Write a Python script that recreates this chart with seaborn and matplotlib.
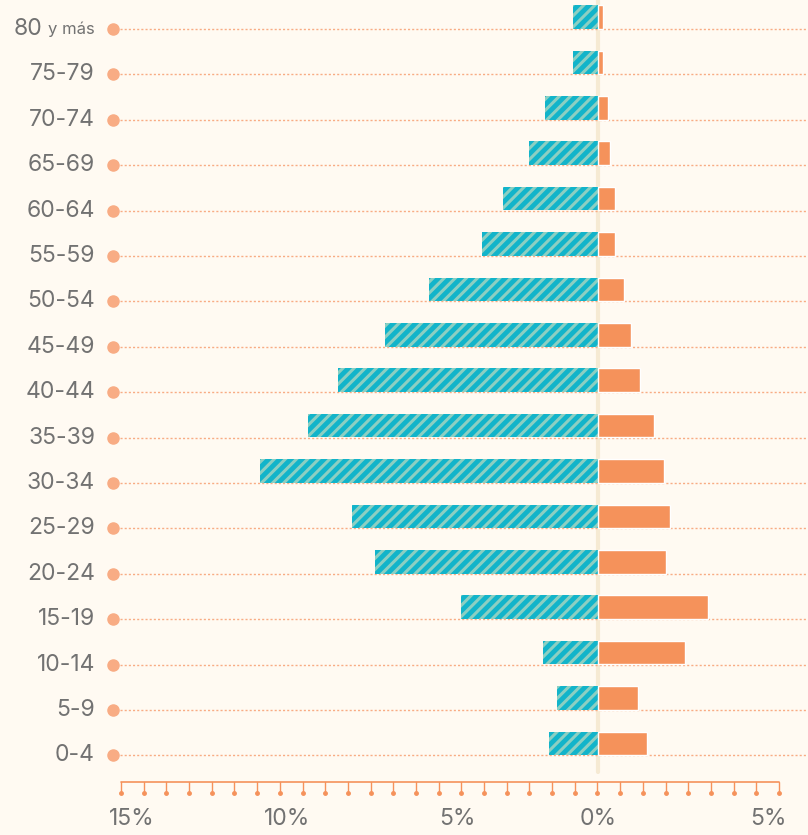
import numpy as np
import matplotlib
matplotlib.use("Agg")
import matplotlib.pyplot as plt
import seaborn as sns

# age groups, top to bottom
groups = ["80 y más", "75-79", "70-74", "65-69", "60-64", "55-59", "50-54", "45-49",
          "40-44", "35-39", "30-34", "25-29", "20-24", "15-19", "10-14", "5-9", "0-4"]
# share of population (%)
hombres = [0.79, 0.79, 1.67, 2.17, 2.99, 3.65, 5.31, 6.70, 8.18, 9.12, 10.63,
           7.74, 7.01, 4.31, 1.73, 1.29, 1.54]
mujeres = [0.16, 0.16, 0.31, 0.38, 0.53, 0.53, 0.82, 1.04, 1.32, 1.76, 2.08,
           2.26, 2.14, 3.46, 2.74, 1.26, 1.54]
tick_text = ["15%", "10%", "5%", "0%", "5%"]

bg = "#FFFAF2"
teal = "#12B4CA"
stripe = "#8CCFC2"
orange = "#F5925B"
dot_col = "#F8AC84"
grey = "#727272"

sns.set_style("white")
plt.rcParams["font.family"] = ["Inter", "DejaVu Sans"]
plt.rcParams["hatch.linewidth"] = 2.2

fig = plt.figure(figsize=(8.08, 8.35), dpi=100)
fig.patch.set_facecolor(bg)
ax = fig.add_axes([0, 0, 1, 1])
ax.set_facecolor(bg)

px = 31.8          # pixels per percent
zero_px = 598
row = 45.4         # pixels per age group
x0 = -zero_px / px
x1 = (808 - zero_px) / px

def to_x(p):
    return (p - zero_px) / px

def to_y(p):
    return (p - 17) / row

# zero line
ax.axvline(0, ymin=(835 - 772) / 835, ymax=1, color="#F6EAD3", lw=3, zorder=1)

# bars
sns.barplot(x=[-v for v in hombres], y=groups, orient="h", color=teal,
            width=0.52, ax=ax, saturation=1, zorder=3)
sns.barplot(x=mujeres, y=groups, orient="h", color=orange,
            width=0.52, ax=ax, saturation=1, zorder=3)
for p in ax.containers[0]:
    p.set_hatch("///")
    p.set_edgecolor(stripe)
    p.set_linewidth(0)

off = 12 / row
lx = to_x(95)
for i, g in enumerate(groups):
    yl = i + off
    ax.plot([to_x(120), x1], [yl, yl], color=dot_col, lw=1, ls=(0, (1.5, 1.5)), zorder=2)
    ax.plot([to_x(113)], [yl], "o", color=dot_col, ms=8, zorder=2)
    if g == "80 y más":
        ax.text(lx, yl, "y más", ha="right", va="center", fontsize=12, color=grey)
        ax.annotate("80", (lx, yl), xytext=(-53, 0), textcoords="offset pixels",
                    ha="right", va="center", fontsize=16.5, color=grey)
    else:
        ax.text(lx, yl, g, ha="right", va="center", fontsize=16.5, color=grey)

# bottom axis
yb, yt = to_y(782), to_y(793)
xa, xb = to_x(121), to_x(779)
ax.plot([xa, xb], [yb, yb], color=orange, lw=1.2, clip_on=False)
for t in np.linspace(xa, xb, 30):
    ax.plot([t, t], [yb, yt], color=orange, lw=1)
    ax.plot([t], [yt], "o", color=orange, ms=2.5)
for lp, s in zip([132, 287, 457, 598, 768], tick_text):
    ax.text(to_x(lp), to_y(819), s, ha="center", va="center", fontsize=16.5, color=grey)

ax.set_xlim(x0, x1)
ax.set_ylim(to_y(835), to_y(0))
ax.set_xlabel("")
ax.set_ylabel("")
ax.set_xticks([])
ax.set_yticks([])
sns.despine(ax=ax, left=True, bottom=True)

fig.savefig("out.png", dpi=100, facecolor=bg)
